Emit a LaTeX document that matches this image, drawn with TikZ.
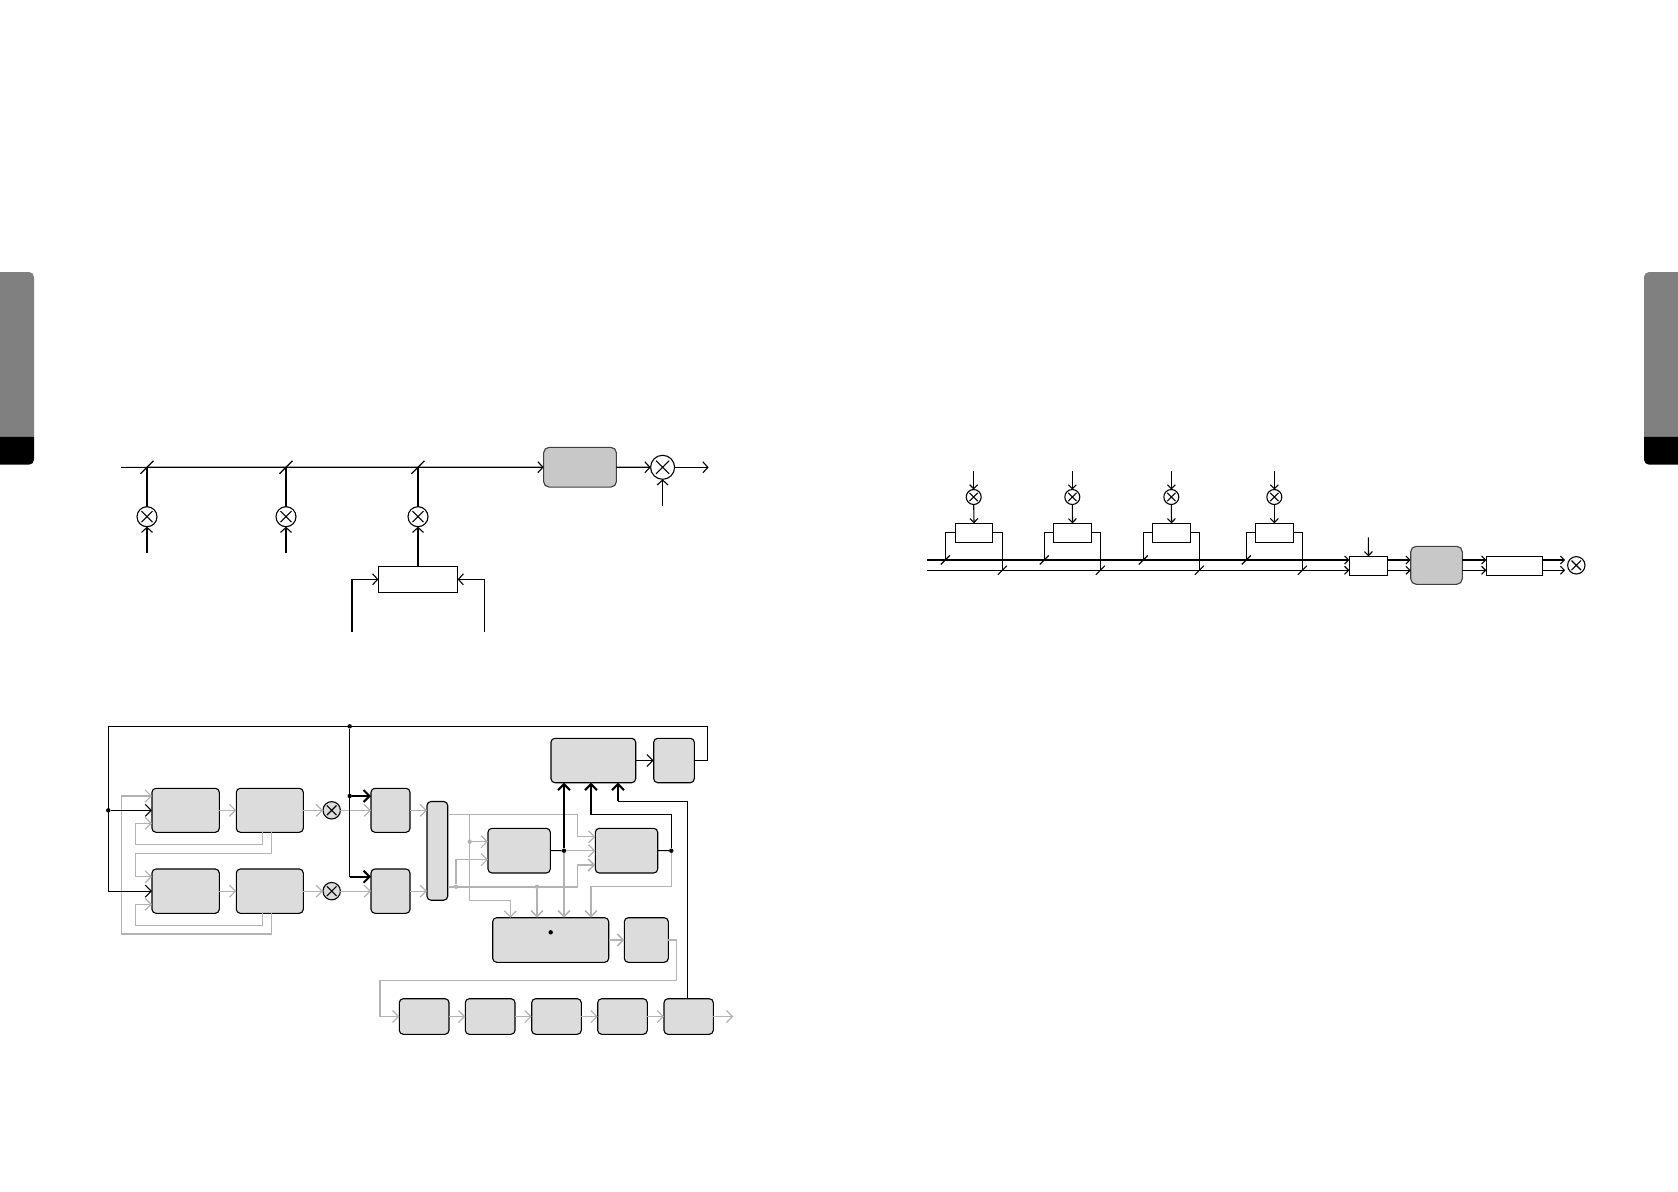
\documentclass[tikz,border=0pt]{standalone}
\usepackage{xcolor}
\usetikzlibrary{arrows.meta,calc}
\definecolor{grisclaro}{HTML}{DCDCDC}
\definecolor{grisosc}{HTML}{C8C8C8}
\definecolor{grislinea}{HTML}{B3B3B3}
\definecolor{grispest}{HTML}{808080}
\tikzset{
  tam/.style 2 args={minimum width=#1pt,minimum height=#2pt},
  caja/.style={draw,fill=grisclaro,rounded corners=4pt,line width=1.1pt,inner sep=0pt,outer sep=0pt},
  cajaosc/.style={draw=black!75,fill=grisosc,rounded corners=5.5pt,line width=1.1pt,inner sep=0pt,outer sep=0pt},
  rect/.style={draw,fill=white,line width=1.1pt,inner sep=0pt,outer sep=0pt},
  mult/.style={circle,draw,line width=1.1pt,inner sep=0pt,outer sep=0pt,minimum size=#1pt,
    path picture={\draw[line width=1.1pt]
      ($(path picture bounding box.center)!0.55!(path picture bounding box.north west)$) --
      ($(path picture bounding box.center)!0.55!(path picture bounding box.south east)$)
      ($(path picture bounding box.center)!0.55!(path picture bounding box.north east)$) --
      ($(path picture bounding box.center)!0.55!(path picture bounding box.south west)$);}},
  pto/.style={circle,fill=black,inner sep=0pt,minimum size=4.4pt},
  ptog/.style={circle,fill=grislinea,inner sep=0pt,minimum size=4.4pt},
  neg/.style={line width=1.1pt},
  negf/.style={->,line width=1.1pt},
  negt/.style={->,line width=2pt},
  gl/.style={grislinea,line width=1.2pt},
  gf/.style={->,grislinea,line width=1.2pt},
  gft/.style={->,grislinea,line width=1.6pt},
  corte/.pic={\draw[line width=1.2pt] (-#1,#1) -- (#1,-#1);}
}
\begin{document}
\begin{tikzpicture}[x=1pt,y=-1pt]
\useasboundingbox (0,0) rectangle (1678,1191);
% pestanas laterales
\fill[grispest] (0,436.7) -- (0,272) [rounded corners=5pt] -- (34,272) [sharp corners] -- (34,436.7) -- cycle;
\fill[black] (0,436.7) -- (34,436.7) [rounded corners=5pt] -- (34,464.7) [sharp corners] -- (0,464.7) -- cycle;
\fill[grispest] (1678,436.7) -- (1678,272) [rounded corners=5pt] -- (1644,272) [sharp corners] -- (1644,436.7) -- cycle;
\fill[black] (1678,436.7) -- (1644,436.7) [rounded corners=5pt] -- (1644,464.7) [sharp corners] -- (1678,464.7) -- cycle;
% bus superior
\begin{scope}[>={Straight Barb[length=5pt,width=11pt]}]
\node[cajaosc,tam={72.8}{39.7}] (proc) at (580,467.2) {};
\node[mult=24] (mfin) at (662.6,467.3) {};
\node[mult=20] (m1) at (147,516.7) {};
\node[mult=20] (m2) at (286,516.7) {};
\node[mult=20] (m3) at (418,516.7) {};
\node[rect,tam={79.3}{26}] (suma) at (418,579.3) {};
\coordinate (ini) at (121,467.3); \coordinate (salida) at (708.6,467.3); \coordinate (efin) at (662.6,506);
\coordinate (e1) at (147,552.7); \coordinate (e2) at (286,552.7); \coordinate (e3) at (352,631.7); \coordinate (e4) at (484.3,631.7);
\draw[negf] (ini) -- (proc.west);
\draw[negf] (proc.east) -- (mfin.west); \draw[negf] (mfin.east) -- (salida); \draw[negf] (efin) -- (mfin.south);
\draw[neg] (m1.north) -- (m1.north |- ini); \draw[neg] (m2.north) -- (m2.north |- ini); \draw[neg] (m3.north) -- (m3.north |- ini);
\draw[negf] (e1) -- (m1.south); \draw[negf] (e2) -- (m2.south); \draw[negf] (suma.north) -- (m3.south);
\draw[negf] (e3) |- (suma.west); \draw[negf] (e4) |- (suma.east);
\pic at (m1.north |- ini) {corte=6.5}; \pic at (m2.north |- ini) {corte=6.5}; \pic at (m3.north |- ini) {corte=6.5};
\end{scope}
% bloques con realimentacion
\begin{scope}[>={Straight Barb[length=6pt,width=12pt]}]
\node[caja,tam={67.3}{44}] (a1) at (185.65,810.3) {};
\node[caja,tam={67}{44}] (a2) at (269.8,810.3) {};
\node[caja,tam={67.3}{44.3}] (b1) at (185.65,891.15) {};
\node[caja,tam={67}{44.3}] (b2) at (269.8,891.15) {};
\node[mult=17.4,fill=grisclaro] (xa) at (331.7,810.3) {};
\node[mult=17.4,fill=grisclaro] (xb) at (331.7,891.15) {};
\node[caja,tam={39}{44}] (c1) at (390.5,810.3) {};
\node[caja,tam={39}{44.3}] (c2) at (390.5,891.15) {};
\node[caja,tam={20.7}{98.7}] (alto) at (437.35,850.85) {};
\node[caja,tam={62.3}{44.7}] (d1) at (519.15,850.65) {};
\node[caja,tam={62.4}{44.7}] (d2) at (626.5,850.65) {};
\node[caja,tam={84.7}{44.4}] (f1) at (593.35,760.5) {};
\node[caja,tam={40.6}{44.4}] (g1) at (674,760.5) {};
\node[caja,tam={116}{44.6}] (h1) at (550.7,940) {};
\node[caja,tam={44}{44.6}] (i1) at (646.3,940) {};
\node[caja,tam={49.7}{35.6}] (j1) at (424.15,1016.5) {};
\node[caja,tam={49.7}{35.6}] (j2) at (490.15,1016.5) {};
\node[caja,tam={49.6}{35.6}] (j3) at (556.5,1016.5) {};
\node[caja,tam={49.6}{35.6}] (j4) at (622.5,1016.5) {};
\node[caja,tam={49.3}{35.6}] (j5) at (688.65,1016.5) {};
\node[pto] (ph) at (550.7,932.3) {};
\coordinate (retA) at (121.3,934); \coordinate (retB) at (135.3,844.3); \coordinate (retC) at (135.3,853.7); \coordinate (retD) at (135.3,925.3);
\coordinate (gA) at (577.3,836.7); \coordinate (gB) at (469.7,814.7); \coordinate (gC) at (510.3,900.3);
\coordinate (gE) at (577.3,865); \coordinate (gG) at (456,859.7); \coordinate (gI) at (591,886.3);
\coordinate (gJ) at (676.7,980.3); \coordinate (gK) at (380,980.3); \coordinate (sal) at (733.3,1016.5);
\node[ptog] (gD) at (469.7,841.7) {}; \node[ptog] (gF) at (456,886.7) {}; \node[ptog] (gH) at (537,886.7) {};
\node[pto] (dIzq) at (108.3,810.3) {}; \node[pto] (dSup) at (349.7,726.3) {}; \node[pto] (dC) at (349.7,796) {};
\node[pto] (dD) at (564,850.7) {}; \node[pto] (dE) at (671.3,850.7) {};
\coordinate (supD) at (707.3,726.3); \coordinate (supI) at (108.3,726.3); \coordinate (cD) at (349.7,876.7);
\coordinate (cF) at (591,814.7); \coordinate (cG) at (618,801.3);
% lineas grises
\draw[gf] (a1.east) -- (a2.west); \draw[gf] (b1.east) -- (b2.west);
\draw[gf] (a2.east) -- (xa.west); \draw[gf] (b2.east) -- (xb.west);
\draw[gf] (xa.east) -- (c1.west); \draw[gf] (xb.east) -- (c2.west);
\draw[gf] (c1.east) -- (c1.east -| alto.west); \draw[gf] (c2.east) -- (c2.east -| alto.west);
\draw[gf] ([xshift=1.9pt]b2.south) |- (retA) |- ([yshift=14.3pt]a1.west);
\draw[gf] ([xshift=-7.1pt]a2.south) |- (retB) |- ([yshift=-13pt]a1.west);
\draw[gf] ([xshift=1.9pt]a2.south) |- (retC) |- ([yshift=14.4pt]b1.west);
\draw[gf] ([xshift=-7.1pt]b2.south) |- (retD) |- ([yshift=-13.2pt]b1.west);
\draw[gf] ([yshift=36.15pt]alto.east) -| (gA) -- (gA -| d2.west);
\draw[gf] (gB) |- (gC) -- (gC |- h1.north);
\draw[gf] (gD) -- (gD -| d1.west);
\draw[gft] ([yshift=-35.85pt]alto.east) -| (gE) -- (gE -| d2.west);
\draw[gf] (gF) -- (gG) -- (gG -| d1.west);
\draw[gft] (gH) -- (gH |- h1.north);
\draw[gft] (dD) -- (dD |- h1.north);
\draw[gf] (dD) -- (dD -| d2.west);
\draw[gl] (dE) |- (gI); \draw[gft] (gI) -- (gI |- h1.north);
\draw[gft] (h1.east) -- (i1.west);
\draw[gf] (i1.east) -| (gJ) -- (gK) |- (j1.west);
\draw[gf] (j1.east) -- (j2.west); \draw[gf] (j2.east) -- (j3.west); \draw[gf] (j3.east) -- (j4.west); \draw[gf] (j4.east) -- (j5.west);
\draw[gf] (j5.east) -- (sal);
% lineas negras
\draw[negf] (g1.east) -| (supD) -- (supI) |- (b1.west);
\draw[negf] (dIzq) -- (a1.west);
\draw[neg] (dSup) -- (cD);
\draw[negt] (dC) -- (dC -| c1.west); \draw[negt] (cD) -- (cD -| c2.west);
\draw[neg] (d1.east) -- (dD); \draw[neg] (d2.east) -- (dE);
\draw[negt] (dD) -- (dD |- f1.south);
\draw[neg] (dE) |- (cF); \draw[negt] (cF) -- (cF |- f1.south);
\draw[neg] ([xshift=-1.35pt]j5.north) |- (cG); \draw[negt] (cG) -- (cG |- f1.south);
\draw[negf] (f1.east) -- (g1.west);
\end{scope}
% cadena con dos buses
\begin{scope}[>={Straight Barb[length=4pt,width=8pt]}]
\node[mult=15] (xc1) at (973.7,497) {}; \node[mult=15] (xc2) at (1072.3,497) {}; \node[mult=15] (xc3) at (1171.3,497) {}; \node[mult=15] (xc4) at (1274.3,497) {};
\node[rect,tam={37.4}{19}] (fc1) at (974,532.8) {}; \node[rect,tam={38.4}{19}] (fc2) at (1072.5,532.8) {};
\node[rect,tam={38.4}{19}] (fc3) at (1171.5,532.8) {}; \node[rect,tam={38}{19}] (fc4) at (1274.3,532.8) {};
\node[rect,tam={38.4}{19.4}] (k1) at (1368.5,566) {};
\node[cajaosc,tam={51.6}{38}] (l1) at (1436.5,565.3) {};
\node[rect,tam={56.4}{19.4}] (m4) at (1514.5,566) {};
\node[mult=17.4] (xfin) at (1576.3,565.3) {};
\coordinate (railA) at (927.3,560); \coordinate (railB) at (927.3,570.3); \coordinate (kT) at (1368.3,537.3);
\coordinate (t1) at (945.3,560); \coordinate (u1) at (1002.3,570.3); \coordinate (t2) at (1044.3,560); \coordinate (u2) at (1100.3,570.3);
\coordinate (t3) at (1143.3,560); \coordinate (u3) at (1199.3,570.3); \coordinate (t4) at (1246.3,560); \coordinate (u4) at (1302.3,570.3);
\coordinate (s1) at (973.7,471); \coordinate (s2) at (1072.3,471); \coordinate (s3) at (1171.3,471); \coordinate (s4) at (1274.3,471);
\draw[negf] (railA) -- (railA -| k1.west); \draw[negf] (railB) -- (railB -| k1.west);
\draw[negf] (railA -| k1.east) -- (railA -| l1.west); \draw[negf] (railB -| k1.east) -- (railB -| l1.west);
\draw[negf] (railA -| l1.east) -- (railA -| m4.west); \draw[negf] (railB -| l1.east) -- (railB -| m4.west);
\draw[negf] (railA -| m4.east) -- ([xshift=-2.5pt]railA -| xfin.west); \draw[negf] (railB -| m4.east) -- ([xshift=-2.5pt]railB -| xfin.west);
\draw[negf] (kT) -- (k1.north);
\draw[negf] (s1) -- (xc1.north); \draw[negf] (xc1.south) -- (fc1.north); \draw[neg] (fc1.west) -| (t1); \draw[neg] (fc1.east) -| (u1);
\draw[negf] (s2) -- (xc2.north); \draw[negf] (xc2.south) -- (fc2.north); \draw[neg] (fc2.west) -| (t2); \draw[neg] (fc2.east) -| (u2);
\draw[negf] (s3) -- (xc3.north); \draw[negf] (xc3.south) -- (fc3.north); \draw[neg] (fc3.west) -| (t3); \draw[neg] (fc3.east) -| (u3);
\draw[negf] (s4) -- (xc4.north); \draw[negf] (xc4.south) -- (fc4.north); \draw[neg] (fc4.west) -| (t4); \draw[neg] (fc4.east) -| (u4);
\pic at (t1) {corte=4.5}; \pic at (u1) {corte=4.5}; \pic at (t2) {corte=4.5}; \pic at (u2) {corte=4.5};
\pic at (t3) {corte=4.5}; \pic at (u3) {corte=4.5}; \pic at (t4) {corte=4.5}; \pic at (u4) {corte=4.5};
\end{scope}
\end{tikzpicture}
\end{document}
